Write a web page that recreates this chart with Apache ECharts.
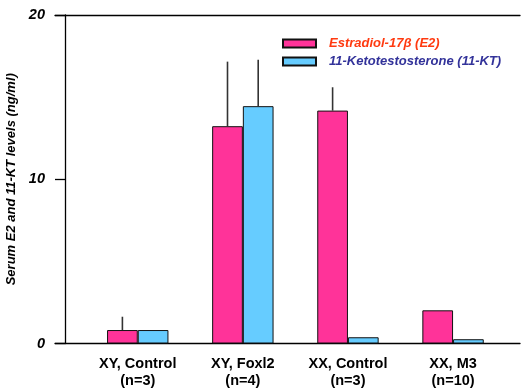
<!DOCTYPE html>
<html>
<head>
<meta charset="utf-8">
<script src="https://cdn.jsdelivr.net/npm/echarts@6/dist/echarts.min.js"></script>
<style>html,body{margin:0;padding:0;background:#fff;}#c{width:522px;height:389px;}</style>
</head>
<body>
<div id="c"></div>
<script>
const categories = ['XY, Control\n(n=3)', 'XY, Foxl2\n(n=4)', 'XX, Control\n(n=3)', 'XX, M3\n(n=10)'];
const e2Values = [0.82, 13.23, 14.18, 2.02];
const ktValues = [0.82, 14.45, 0.38, 0.26];
const e2ErrTop = [1.63, 17.16, 15.6, null];
const ktErrTop = [null, 17.27, null, null];
const yTicks = [0, 10, 20];
const seriesNames = ['Estradiol-17\u03B2 (E2)', '11-Ketotestosterone (11-KT)'];

const BAR_W = 30.7;
function errData(vals, tops) {
  return vals.map((v, i) => [i, v, tops[i] == null ? v : tops[i]]);
}
function errRender(sign) {
  return function (params, api) {
    const i = api.value(0), v = api.value(1), t = api.value(2);
    if (!(t > v)) return null;
    const p0 = api.coord([i, v]);
    const p1 = api.coord([i, t]);
    const x = p0[0] + sign * BAR_W / 2;
    return {
      type: 'line',
      shape: { x1: x, y1: p0[1], x2: x, y2: p1[1] },
      style: { stroke: '#333', lineWidth: 1.6 }
    };
  };
}

const chart = echarts.init(document.getElementById('c'), null, { renderer: 'canvas' });
chart.setOption({
  animation: false,
  backgroundColor: '#fff',
  legend: {
    orient: 'vertical',
    left: 277, top: 32,
    icon: 'rect',
    itemWidth: 33, itemHeight: 8,
    itemGap: 5,
    textStyle: { fontFamily: 'Liberation Sans, Arial, sans-serif', fontSize: 13, fontWeight: 'bold', fontStyle: 'italic', padding: [0, 0, 0, 8] },
    data: [
      { name: seriesNames[0], textStyle: { color: '#ff3a10' } },
      { name: seriesNames[1], textStyle: { color: '#33339a' } }
    ]
  },
  grid: [
    { left: 85.2, right: 16.4, top: 15, bottom: 45.5, containLabel: false, outerBoundsMode: 'none' },
    { left: 55, right: 2, top: 15, bottom: 45.5, containLabel: false, outerBoundsMode: 'none' }
  ],
  xAxis: [
    {
      type: 'category', gridIndex: 0, data: categories,
      axisLine: { show: false }, axisTick: { show: false },
      axisLabel: { interval: 0, margin: 12, color: '#000', fontFamily: 'Liberation Sans, Arial, sans-serif', fontSize: 14.5, fontWeight: 'bold', lineHeight: 17 }
    },
    { type: 'value', gridIndex: 1, min: 0, max: 1, position: 'bottom',
      axisLine: { show: true, lineStyle: { color: '#000', width: 1.3 } }, axisTick: { show: false }, axisLabel: { show: false }, splitLine: { show: false } },
    { type: 'value', gridIndex: 1, min: 0, max: 1, position: 'top',
      axisLine: { show: true, lineStyle: { color: '#000', width: 1.3 } }, axisTick: { show: false }, axisLabel: { show: false }, splitLine: { show: false } }
  ],
  yAxis: [
    {
      type: 'value', gridIndex: 0, min: yTicks[0], max: yTicks[yTicks.length - 1], interval: 10,
      offset: 20.2,
      name: 'Serum E2 and 11-KT levels (ng/ml)',
      nameLocation: 'middle', nameGap: 38, nameRotate: 90,
      nameTextStyle: { color: '#000', fontFamily: 'Liberation Sans, Arial, sans-serif', fontSize: 13, fontWeight: 'bold', fontStyle: 'italic' },
      axisLine: { show: true, lineStyle: { color: '#000', width: 1.3 } },
      axisTick: { show: true, length: 10, lineStyle: { color: '#000', width: 1.3 } },
      axisLabel: { margin: 20, color: '#000', fontFamily: 'Liberation Sans, Arial, sans-serif', fontSize: 14.5, fontWeight: 'bold', fontStyle: 'italic' },
      splitLine: { show: false }
    },
    { type: 'value', gridIndex: 1, min: 0, max: 1, show: false }
  ],
  series: [
    {
      name: seriesNames[0], type: 'bar', xAxisIndex: 0, yAxisIndex: 0,
      data: e2Values, barWidth: BAR_W, barGap: '0%',
      itemStyle: { color: '#ff3399', borderColor: '#111', borderWidth: 1 }
    },
    {
      name: seriesNames[1], type: 'bar', xAxisIndex: 0, yAxisIndex: 0,
      data: ktValues, barWidth: BAR_W, barGap: '0%',
      itemStyle: { color: '#66ccff', borderColor: '#111', borderWidth: 1 }
    },
    {
      type: 'custom', xAxisIndex: 0, yAxisIndex: 0, z: 1,
      data: errData(e2Values, e2ErrTop), renderItem: errRender(-1), silent: true
    },
    {
      type: 'custom', xAxisIndex: 0, yAxisIndex: 0, z: 1,
      data: errData(ktValues, ktErrTop), renderItem: errRender(1), silent: true
    }
  ]
});
</script>
</body>
</html>
